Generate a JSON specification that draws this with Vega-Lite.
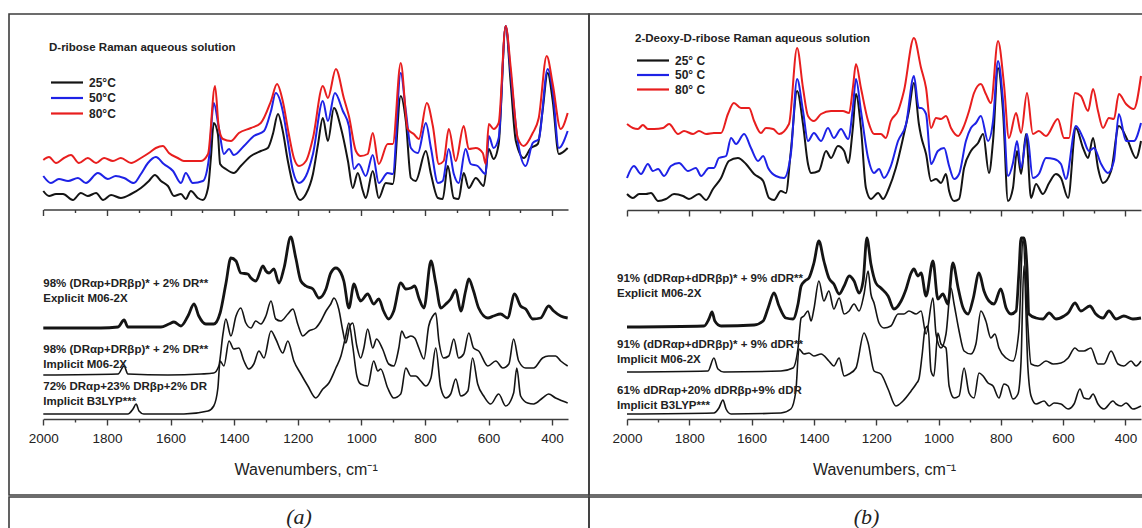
{
"$schema": "https://vega.github.io/schema/vega-lite/v6.json",
"padding": {"left": 8, "top": 13, "right": 0, "bottom": 0},
"background": "white",
"spacing": 0,
"config": {"font": "Liberation Sans", "view": {"stroke": null}, "axis": {"labelFont": "Liberation Sans", "titleFont": "Liberation Sans", "grid": false}},
"resolve": {"scale": {"x": "independent", "y": "independent", "color": "independent"}},
"datasets": {
"aExp": [
{"s":"25°C","w":2000,"i":228},{"s":"25°C","w":1982,"i":223},{"s":"25°C","w":1960,"i":225},{"s":"25°C","w":1938,"i":225},{"s":"25°C","w":1907,"i":219},{"s":"25°C","w":1882,"i":226},{"s":"25°C","w":1860,"i":223},{"s":"25°C","w":1834,"i":226},{"s":"25°C","w":1812,"i":219},{"s":"25°C","w":1787,"i":224},{"s":"25°C","w":1756,"i":221},{"s":"25°C","w":1724,"i":225},{"s":"25°C","w":1693,"i":231},{"s":"25°C","w":1668,"i":238},{"s":"25°C","w":1649,"i":244},{"s":"25°C","w":1630,"i":238},{"s":"25°C","w":1608,"i":233},{"s":"25°C","w":1589,"i":223},{"s":"25°C","w":1567,"i":225},{"s":"25°C","w":1552,"i":220},{"s":"25°C","w":1536,"i":228},{"s":"25°C","w":1514,"i":221},{"s":"25°C","w":1498,"i":219},{"s":"25°C","w":1482,"i":231},{"s":"25°C","w":1473,"i":261},{"s":"25°C","w":1464,"i":296},{"s":"25°C","w":1451,"i":285},{"s":"25°C","w":1444,"i":255},{"s":"25°C","w":1426,"i":250},{"s":"25°C","w":1401,"i":246},{"s":"25°C","w":1379,"i":253},{"s":"25°C","w":1347,"i":263},{"s":"25°C","w":1316,"i":268},{"s":"25°C","w":1294,"i":271},{"s":"25°C","w":1278,"i":285},{"s":"25°C","w":1262,"i":305},{"s":"25°C","w":1247,"i":288},{"s":"25°C","w":1231,"i":258},{"s":"25°C","w":1212,"i":231},{"s":"25°C","w":1193,"i":219},{"s":"25°C","w":1174,"i":225},{"s":"25°C","w":1152,"i":245},{"s":"25°C","w":1136,"i":275},{"s":"25°C","w":1121,"i":301},{"s":"25°C","w":1105,"i":278},{"s":"25°C","w":1086,"i":311},{"s":"25°C","w":1064,"i":291},{"s":"25°C","w":1042,"i":258},{"s":"25°C","w":1027,"i":231},{"s":"25°C","w":1011,"i":246},{"s":"25°C","w":995,"i":228},{"s":"25°C","w":986,"i":221},{"s":"25°C","w":964,"i":248},{"s":"25°C","w":945,"i":221},{"s":"25°C","w":923,"i":236},{"s":"25°C","w":901,"i":235},{"s":"25°C","w":876,"i":323},{"s":"25°C","w":860,"i":298},{"s":"25°C","w":844,"i":241},{"s":"25°C","w":829,"i":238},{"s":"25°C","w":797,"i":268},{"s":"25°C","w":781,"i":245},{"s":"25°C","w":759,"i":221},{"s":"25°C","w":744,"i":220},{"s":"25°C","w":728,"i":253},{"s":"25°C","w":709,"i":221},{"s":"25°C","w":694,"i":220},{"s":"25°C","w":678,"i":246},{"s":"25°C","w":662,"i":231},{"s":"25°C","w":640,"i":241},{"s":"25°C","w":615,"i":233},{"s":"25°C","w":599,"i":270},{"s":"25°C","w":584,"i":260},{"s":"25°C","w":568,"i":275},{"s":"25°C","w":546,"i":393},{"s":"25°C","w":530,"i":335},{"s":"25°C","w":514,"i":278},{"s":"25°C","w":489,"i":261},{"s":"25°C","w":467,"i":271},{"s":"25°C","w":445,"i":275},{"s":"25°C","w":430,"i":308},{"s":"25°C","w":414,"i":346},{"s":"25°C","w":398,"i":318},{"s":"25°C","w":379,"i":265},{"s":"25°C","w":351,"i":271},
{"s":"50°C","w":2000,"i":243},{"s":"50°C","w":1976,"i":236},{"s":"50°C","w":1951,"i":240},{"s":"50°C","w":1922,"i":238},{"s":"50°C","w":1891,"i":241},{"s":"50°C","w":1866,"i":236},{"s":"50°C","w":1828,"i":246},{"s":"50°C","w":1797,"i":240},{"s":"50°C","w":1772,"i":243},{"s":"50°C","w":1746,"i":241},{"s":"50°C","w":1715,"i":236},{"s":"50°C","w":1693,"i":245},{"s":"50°C","w":1671,"i":256},{"s":"50°C","w":1646,"i":262},{"s":"50°C","w":1621,"i":255},{"s":"50°C","w":1592,"i":248},{"s":"50°C","w":1567,"i":236},{"s":"50°C","w":1552,"i":246},{"s":"50°C","w":1530,"i":236},{"s":"50°C","w":1498,"i":238},{"s":"50°C","w":1479,"i":261},{"s":"50°C","w":1464,"i":316},{"s":"50°C","w":1448,"i":291},{"s":"50°C","w":1432,"i":265},{"s":"50°C","w":1416,"i":270},{"s":"50°C","w":1401,"i":264},{"s":"50°C","w":1369,"i":273},{"s":"50°C","w":1338,"i":283},{"s":"50°C","w":1306,"i":288},{"s":"50°C","w":1284,"i":308},{"s":"50°C","w":1269,"i":326},{"s":"50°C","w":1247,"i":308},{"s":"50°C","w":1231,"i":278},{"s":"50°C","w":1215,"i":248},{"s":"50°C","w":1196,"i":236},{"s":"50°C","w":1174,"i":243},{"s":"50°C","w":1152,"i":265},{"s":"50°C","w":1121,"i":318},{"s":"50°C","w":1105,"i":298},{"s":"50°C","w":1083,"i":326},{"s":"50°C","w":1058,"i":308},{"s":"50°C","w":1039,"i":293},{"s":"50°C","w":1023,"i":250},{"s":"50°C","w":1008,"i":255},{"s":"50°C","w":986,"i":243},{"s":"50°C","w":964,"i":264},{"s":"50°C","w":945,"i":236},{"s":"50°C","w":917,"i":246},{"s":"50°C","w":901,"i":245},{"s":"50°C","w":876,"i":346},{"s":"50°C","w":860,"i":308},{"s":"50°C","w":844,"i":271},{"s":"50°C","w":822,"i":266},{"s":"50°C","w":797,"i":296},{"s":"50°C","w":781,"i":271},{"s":"50°C","w":759,"i":236},{"s":"50°C","w":744,"i":238},{"s":"50°C","w":725,"i":270},{"s":"50°C","w":709,"i":245},{"s":"50°C","w":694,"i":236},{"s":"50°C","w":672,"i":270},{"s":"50°C","w":656,"i":255},{"s":"50°C","w":634,"i":253},{"s":"50°C","w":609,"i":245},{"s":"50°C","w":599,"i":283},{"s":"50°C","w":584,"i":271},{"s":"50°C","w":568,"i":281},{"s":"50°C","w":546,"i":393},{"s":"50°C","w":530,"i":345},{"s":"50°C","w":508,"i":278},{"s":"50°C","w":483,"i":253},{"s":"50°C","w":461,"i":276},{"s":"50°C","w":442,"i":280},{"s":"50°C","w":414,"i":350},{"s":"50°C","w":398,"i":328},{"s":"50°C","w":379,"i":271},{"s":"50°C","w":351,"i":288},
{"s":"80°C","w":2000,"i":259},{"s":"80°C","w":1982,"i":262},{"s":"80°C","w":1960,"i":256},{"s":"80°C","w":1935,"i":261},{"s":"80°C","w":1913,"i":264},{"s":"80°C","w":1888,"i":256},{"s":"80°C","w":1860,"i":261},{"s":"80°C","w":1834,"i":256},{"s":"80°C","w":1809,"i":261},{"s":"80°C","w":1781,"i":258},{"s":"80°C","w":1756,"i":261},{"s":"80°C","w":1724,"i":256},{"s":"80°C","w":1693,"i":261},{"s":"80°C","w":1668,"i":266},{"s":"80°C","w":1646,"i":271},{"s":"80°C","w":1624,"i":273},{"s":"80°C","w":1605,"i":266},{"s":"80°C","w":1577,"i":261},{"s":"80°C","w":1558,"i":258},{"s":"80°C","w":1530,"i":258},{"s":"80°C","w":1504,"i":258},{"s":"80°C","w":1482,"i":265},{"s":"80°C","w":1460,"i":333},{"s":"80°C","w":1448,"i":291},{"s":"80°C","w":1435,"i":280},{"s":"80°C","w":1410,"i":278},{"s":"80°C","w":1385,"i":286},{"s":"80°C","w":1347,"i":291},{"s":"80°C","w":1316,"i":296},{"s":"80°C","w":1284,"i":318},{"s":"80°C","w":1265,"i":335},{"s":"80°C","w":1247,"i":318},{"s":"80°C","w":1228,"i":285},{"s":"80°C","w":1212,"i":261},{"s":"80°C","w":1196,"i":253},{"s":"80°C","w":1174,"i":258},{"s":"80°C","w":1152,"i":281},{"s":"80°C","w":1121,"i":333},{"s":"80°C","w":1105,"i":321},{"s":"80°C","w":1080,"i":350},{"s":"80°C","w":1055,"i":321},{"s":"80°C","w":1039,"i":303},{"s":"80°C","w":1017,"i":268},{"s":"80°C","w":1002,"i":263},{"s":"80°C","w":980,"i":265},{"s":"80°C","w":964,"i":286},{"s":"80°C","w":945,"i":255},{"s":"80°C","w":917,"i":275},{"s":"80°C","w":901,"i":275},{"s":"80°C","w":876,"i":356},{"s":"80°C","w":854,"i":290},{"s":"80°C","w":835,"i":285},{"s":"80°C","w":819,"i":280},{"s":"80°C","w":794,"i":316},{"s":"80°C","w":775,"i":293},{"s":"80°C","w":756,"i":255},{"s":"80°C","w":741,"i":258},{"s":"80°C","w":725,"i":290},{"s":"80°C","w":703,"i":258},{"s":"80°C","w":678,"i":293},{"s":"80°C","w":662,"i":270},{"s":"80°C","w":640,"i":271},{"s":"80°C","w":618,"i":266},{"s":"80°C","w":609,"i":255},{"s":"80°C","w":599,"i":295},{"s":"80°C","w":584,"i":290},{"s":"80°C","w":568,"i":296},{"s":"80°C","w":546,"i":393},{"s":"80°C","w":530,"i":351},{"s":"80°C","w":508,"i":281},{"s":"80°C","w":489,"i":273},{"s":"80°C","w":461,"i":286},{"s":"80°C","w":442,"i":301},{"s":"80°C","w":417,"i":363},{"s":"80°C","w":398,"i":335},{"s":"80°C","w":373,"i":290},{"s":"80°C","w":351,"i":306}
],
"aCalc": [
{"s":"exp","w":2000,"i":91},{"s":"exp","w":1819,"i":91},{"s":"exp","w":1765,"i":92},{"s":"exp","w":1746,"i":99},{"s":"exp","w":1734,"i":92},{"s":"exp","w":1630,"i":92},{"s":"exp","w":1605,"i":95},{"s":"exp","w":1589,"i":97},{"s":"exp","w":1567,"i":93},{"s":"exp","w":1545,"i":103},{"s":"exp","w":1526,"i":115},{"s":"exp","w":1511,"i":103},{"s":"exp","w":1489,"i":95},{"s":"exp","w":1464,"i":95},{"s":"exp","w":1444,"i":106},{"s":"exp","w":1426,"i":135},{"s":"exp","w":1410,"i":161},{"s":"exp","w":1394,"i":158},{"s":"exp","w":1379,"i":146},{"s":"exp","w":1357,"i":145},{"s":"exp","w":1347,"i":141},{"s":"exp","w":1332,"i":138},{"s":"exp","w":1309,"i":153},{"s":"exp","w":1300,"i":148},{"s":"exp","w":1290,"i":146},{"s":"exp","w":1275,"i":150},{"s":"exp","w":1259,"i":136},{"s":"exp","w":1243,"i":151},{"s":"exp","w":1222,"i":182},{"s":"exp","w":1206,"i":161},{"s":"exp","w":1190,"i":138},{"s":"exp","w":1174,"i":133},{"s":"exp","w":1152,"i":130},{"s":"exp","w":1133,"i":121},{"s":"exp","w":1111,"i":130},{"s":"exp","w":1096,"i":146},{"s":"exp","w":1080,"i":151},{"s":"exp","w":1064,"i":146},{"s":"exp","w":1055,"i":138},{"s":"exp","w":1039,"i":111},{"s":"exp","w":1023,"i":135},{"s":"exp","w":1008,"i":121},{"s":"exp","w":1002,"i":118},{"s":"exp","w":980,"i":125},{"s":"exp","w":961,"i":115},{"s":"exp","w":945,"i":120},{"s":"exp","w":930,"i":108},{"s":"exp","w":914,"i":100},{"s":"exp","w":898,"i":108},{"s":"exp","w":876,"i":136},{"s":"exp","w":860,"i":130},{"s":"exp","w":844,"i":131},{"s":"exp","w":832,"i":133},{"s":"exp","w":819,"i":121},{"s":"exp","w":803,"i":111},{"s":"exp","w":781,"i":158},{"s":"exp","w":766,"i":136},{"s":"exp","w":750,"i":111},{"s":"exp","w":734,"i":115},{"s":"exp","w":719,"i":120},{"s":"exp","w":703,"i":129},{"s":"exp","w":687,"i":108},{"s":"exp","w":672,"i":128},{"s":"exp","w":662,"i":140},{"s":"exp","w":647,"i":128},{"s":"exp","w":631,"i":111},{"s":"exp","w":602,"i":101},{"s":"exp","w":584,"i":103},{"s":"exp","w":562,"i":105},{"s":"exp","w":540,"i":101},{"s":"exp","w":518,"i":125},{"s":"exp","w":499,"i":113},{"s":"exp","w":483,"i":110},{"s":"exp","w":461,"i":100},{"s":"exp","w":436,"i":101},{"s":"exp","w":411,"i":113},{"s":"exp","w":395,"i":108},{"s":"exp","w":373,"i":103},{"s":"exp","w":351,"i":101},
{"s":"imp","w":2000,"i":44},{"s":"imp","w":1765,"i":45},{"s":"imp","w":1746,"i":53},{"s":"imp","w":1734,"i":45},{"s":"imp","w":1608,"i":44},{"s":"imp","w":1504,"i":45},{"s":"imp","w":1464,"i":46},{"s":"imp","w":1448,"i":53},{"s":"imp","w":1435,"i":85},{"s":"imp","w":1426,"i":100},{"s":"imp","w":1410,"i":83},{"s":"imp","w":1394,"i":103},{"s":"imp","w":1379,"i":111},{"s":"imp","w":1363,"i":96},{"s":"imp","w":1347,"i":91},{"s":"imp","w":1332,"i":98},{"s":"imp","w":1316,"i":95},{"s":"imp","w":1300,"i":103},{"s":"imp","w":1284,"i":118},{"s":"imp","w":1269,"i":100},{"s":"imp","w":1253,"i":98},{"s":"imp","w":1231,"i":105},{"s":"imp","w":1215,"i":110},{"s":"imp","w":1200,"i":95},{"s":"imp","w":1184,"i":83},{"s":"imp","w":1165,"i":88},{"s":"imp","w":1143,"i":91},{"s":"imp","w":1127,"i":98},{"s":"imp","w":1111,"i":108},{"s":"imp","w":1096,"i":115},{"s":"imp","w":1086,"i":121},{"s":"imp","w":1071,"i":110},{"s":"imp","w":1058,"i":88},{"s":"imp","w":1049,"i":76},{"s":"imp","w":1036,"i":93},{"s":"imp","w":1027,"i":96},{"s":"imp","w":1014,"i":73},{"s":"imp","w":1002,"i":61},{"s":"imp","w":992,"i":71},{"s":"imp","w":980,"i":90},{"s":"imp","w":964,"i":71},{"s":"imp","w":952,"i":80},{"s":"imp","w":933,"i":70},{"s":"imp","w":914,"i":55},{"s":"imp","w":898,"i":53},{"s":"imp","w":882,"i":71},{"s":"imp","w":873,"i":88},{"s":"imp","w":860,"i":81},{"s":"imp","w":844,"i":83},{"s":"imp","w":832,"i":81},{"s":"imp","w":819,"i":71},{"s":"imp","w":803,"i":60},{"s":"imp","w":788,"i":93},{"s":"imp","w":775,"i":103},{"s":"imp","w":766,"i":106},{"s":"imp","w":756,"i":78},{"s":"imp","w":741,"i":61},{"s":"imp","w":725,"i":63},{"s":"imp","w":709,"i":80},{"s":"imp","w":694,"i":61},{"s":"imp","w":678,"i":65},{"s":"imp","w":662,"i":86},{"s":"imp","w":647,"i":71},{"s":"imp","w":631,"i":68},{"s":"imp","w":602,"i":53},{"s":"imp","w":577,"i":58},{"s":"imp","w":555,"i":51},{"s":"imp","w":536,"i":55},{"s":"imp","w":521,"i":80},{"s":"imp","w":505,"i":58},{"s":"imp","w":483,"i":51},{"s":"imp","w":458,"i":51},{"s":"imp","w":430,"i":61},{"s":"imp","w":411,"i":63},{"s":"imp","w":389,"i":63},{"s":"imp","w":373,"i":58},{"s":"imp","w":351,"i":53},
{"s":"b3","w":2000,"i":5},{"s":"b3","w":1734,"i":5},{"s":"b3","w":1718,"i":10},{"s":"b3","w":1708,"i":15},{"s":"b3","w":1699,"i":8},{"s":"b3","w":1684,"i":5},{"s":"b3","w":1558,"i":5},{"s":"b3","w":1482,"i":8},{"s":"b3","w":1464,"i":13},{"s":"b3","w":1451,"i":31},{"s":"b3","w":1444,"i":58},{"s":"b3","w":1432,"i":53},{"s":"b3","w":1416,"i":78},{"s":"b3","w":1401,"i":70},{"s":"b3","w":1385,"i":71},{"s":"b3","w":1369,"i":58},{"s":"b3","w":1354,"i":50},{"s":"b3","w":1338,"i":55},{"s":"b3","w":1322,"i":68},{"s":"b3","w":1306,"i":61},{"s":"b3","w":1284,"i":88},{"s":"b3","w":1269,"i":80},{"s":"b3","w":1247,"i":66},{"s":"b3","w":1231,"i":78},{"s":"b3","w":1212,"i":58},{"s":"b3","w":1190,"i":45},{"s":"b3","w":1168,"i":33},{"s":"b3","w":1143,"i":21},{"s":"b3","w":1121,"i":30},{"s":"b3","w":1102,"i":36},{"s":"b3","w":1080,"i":51},{"s":"b3","w":1064,"i":63},{"s":"b3","w":1049,"i":83},{"s":"b3","w":1039,"i":96},{"s":"b3","w":1027,"i":73},{"s":"b3","w":1014,"i":43},{"s":"b3","w":1002,"i":35},{"s":"b3","w":980,"i":33},{"s":"b3","w":961,"i":58},{"s":"b3","w":948,"i":48},{"s":"b3","w":939,"i":50},{"s":"b3","w":917,"i":31},{"s":"b3","w":898,"i":21},{"s":"b3","w":876,"i":25},{"s":"b3","w":860,"i":51},{"s":"b3","w":844,"i":43},{"s":"b3","w":829,"i":43},{"s":"b3","w":813,"i":38},{"s":"b3","w":797,"i":33},{"s":"b3","w":781,"i":41},{"s":"b3","w":766,"i":71},{"s":"b3","w":750,"i":31},{"s":"b3","w":734,"i":21},{"s":"b3","w":719,"i":25},{"s":"b3","w":703,"i":40},{"s":"b3","w":687,"i":23},{"s":"b3","w":665,"i":28},{"s":"b3","w":650,"i":61},{"s":"b3","w":634,"i":35},{"s":"b3","w":615,"i":23},{"s":"b3","w":593,"i":15},{"s":"b3","w":568,"i":25},{"s":"b3","w":546,"i":13},{"s":"b3","w":521,"i":26},{"s":"b3","w":511,"i":51},{"s":"b3","w":499,"i":23},{"s":"b3","w":477,"i":16},{"s":"b3","w":458,"i":15},{"s":"b3","w":430,"i":21},{"s":"b3","w":411,"i":25},{"s":"b3","w":389,"i":21},{"s":"b3","w":367,"i":18},{"s":"b3","w":351,"i":16}
],
"aLab": [
{"w":2000,"i":141,"t":"98% (DRαp+DRβp)* + 2% DR**\nExplicit M06-2X"},
{"w":2000,"i":75,"t":"98% (DRαp+DRβp)* + 2% DR**\nImplicit M06-2X"},
{"w":2000,"i":38,"t":"72% DRαp+23% DRβp+2% DR\nImplicit B3LYP***"}
],
"bExp": [
{"s":"25° C","w":2000,"i":225},{"s":"25° C","w":1981,"i":221},{"s":"25° C","w":1961,"i":225},{"s":"25° C","w":1939,"i":225},{"s":"25° C","w":1923,"i":226},{"s":"25° C","w":1900,"i":218},{"s":"25° C","w":1875,"i":220},{"s":"25° C","w":1849,"i":225},{"s":"25° C","w":1820,"i":223},{"s":"25° C","w":1801,"i":220},{"s":"25° C","w":1769,"i":225},{"s":"25° C","w":1746,"i":219},{"s":"25° C","w":1724,"i":230},{"s":"25° C","w":1698,"i":241},{"s":"25° C","w":1673,"i":258},{"s":"25° C","w":1644,"i":261},{"s":"25° C","w":1618,"i":255},{"s":"25° C","w":1592,"i":245},{"s":"25° C","w":1563,"i":238},{"s":"25° C","w":1544,"i":221},{"s":"25° C","w":1528,"i":219},{"s":"25° C","w":1506,"i":228},{"s":"25° C","w":1490,"i":226},{"s":"25° C","w":1474,"i":268},{"s":"25° C","w":1454,"i":328},{"s":"25° C","w":1435,"i":295},{"s":"25° C","w":1419,"i":255},{"s":"25° C","w":1409,"i":246},{"s":"25° C","w":1384,"i":248},{"s":"25° C","w":1361,"i":268},{"s":"25° C","w":1345,"i":261},{"s":"25° C","w":1323,"i":273},{"s":"25° C","w":1303,"i":268},{"s":"25° C","w":1290,"i":256},{"s":"25° C","w":1275,"i":291},{"s":"25° C","w":1265,"i":325},{"s":"25° C","w":1249,"i":291},{"s":"25° C","w":1233,"i":231},{"s":"25° C","w":1217,"i":220},{"s":"25° C","w":1194,"i":226},{"s":"25° C","w":1178,"i":220},{"s":"25° C","w":1159,"i":231},{"s":"25° C","w":1137,"i":251},{"s":"25° C","w":1111,"i":285},{"s":"25° C","w":1095,"i":308},{"s":"25° C","w":1079,"i":336},{"s":"25° C","w":1063,"i":295},{"s":"25° C","w":1056,"i":283},{"s":"25° C","w":1040,"i":265},{"s":"25° C","w":1024,"i":238},{"s":"25° C","w":1008,"i":240},{"s":"25° C","w":992,"i":236},{"s":"25° C","w":976,"i":245},{"s":"25° C","w":966,"i":228},{"s":"25° C","w":950,"i":218},{"s":"25° C","w":934,"i":220},{"s":"25° C","w":918,"i":251},{"s":"25° C","w":896,"i":268},{"s":"25° C","w":873,"i":276},{"s":"25° C","w":857,"i":285},{"s":"25° C","w":838,"i":246},{"s":"25° C","w":825,"i":278},{"s":"25° C","w":809,"i":351},{"s":"25° C","w":793,"i":308},{"s":"25° C","w":777,"i":218},{"s":"25° C","w":761,"i":231},{"s":"25° C","w":748,"i":268},{"s":"25° C","w":735,"i":245},{"s":"25° C","w":719,"i":285},{"s":"25° C","w":703,"i":221},{"s":"25° C","w":687,"i":235},{"s":"25° C","w":665,"i":225},{"s":"25° C","w":645,"i":236},{"s":"25° C","w":623,"i":245},{"s":"25° C","w":607,"i":241},{"s":"25° C","w":584,"i":221},{"s":"25° C","w":559,"i":291},{"s":"25° C","w":536,"i":271},{"s":"25° C","w":520,"i":261},{"s":"25° C","w":504,"i":281},{"s":"25° C","w":488,"i":251},{"s":"25° C","w":472,"i":236},{"s":"25° C","w":446,"i":248},{"s":"25° C","w":421,"i":293},{"s":"25° C","w":392,"i":278},{"s":"25° C","w":366,"i":261},{"s":"25° C","w":350,"i":278},
{"s":"50° C","w":2000,"i":241},{"s":"50° C","w":1978,"i":253},{"s":"50° C","w":1955,"i":245},{"s":"50° C","w":1933,"i":255},{"s":"50° C","w":1917,"i":248},{"s":"50° C","w":1900,"i":250},{"s":"50° C","w":1881,"i":243},{"s":"50° C","w":1859,"i":253},{"s":"50° C","w":1833,"i":256},{"s":"50° C","w":1804,"i":248},{"s":"50° C","w":1779,"i":251},{"s":"50° C","w":1762,"i":243},{"s":"50° C","w":1737,"i":251},{"s":"50° C","w":1721,"i":251},{"s":"50° C","w":1705,"i":261},{"s":"50° C","w":1682,"i":263},{"s":"50° C","w":1666,"i":281},{"s":"50° C","w":1650,"i":275},{"s":"50° C","w":1624,"i":285},{"s":"50° C","w":1602,"i":271},{"s":"50° C","w":1579,"i":258},{"s":"50° C","w":1563,"i":263},{"s":"50° C","w":1547,"i":251},{"s":"50° C","w":1522,"i":243},{"s":"50° C","w":1496,"i":241},{"s":"50° C","w":1474,"i":265},{"s":"50° C","w":1454,"i":340},{"s":"50° C","w":1435,"i":308},{"s":"50° C","w":1419,"i":278},{"s":"50° C","w":1400,"i":286},{"s":"50° C","w":1377,"i":278},{"s":"50° C","w":1355,"i":291},{"s":"50° C","w":1336,"i":281},{"s":"50° C","w":1313,"i":290},{"s":"50° C","w":1290,"i":280},{"s":"50° C","w":1275,"i":311},{"s":"50° C","w":1265,"i":340},{"s":"50° C","w":1249,"i":308},{"s":"50° C","w":1226,"i":261},{"s":"50° C","w":1207,"i":246},{"s":"50° C","w":1191,"i":250},{"s":"50° C","w":1175,"i":241},{"s":"50° C","w":1153,"i":253},{"s":"50° C","w":1130,"i":278},{"s":"50° C","w":1104,"i":295},{"s":"50° C","w":1079,"i":343},{"s":"50° C","w":1063,"i":311},{"s":"50° C","w":1056,"i":311},{"s":"50° C","w":1040,"i":305},{"s":"50° C","w":1024,"i":255},{"s":"50° C","w":1002,"i":268},{"s":"50° C","w":982,"i":271},{"s":"50° C","w":966,"i":253},{"s":"50° C","w":950,"i":240},{"s":"50° C","w":934,"i":245},{"s":"50° C","w":912,"i":278},{"s":"50° C","w":896,"i":291},{"s":"50° C","w":880,"i":296},{"s":"50° C","w":864,"i":303},{"s":"50° C","w":841,"i":278},{"s":"50° C","w":825,"i":298},{"s":"50° C","w":809,"i":358},{"s":"50° C","w":793,"i":318},{"s":"50° C","w":777,"i":243},{"s":"50° C","w":761,"i":256},{"s":"50° C","w":748,"i":278},{"s":"50° C","w":735,"i":251},{"s":"50° C","w":716,"i":285},{"s":"50° C","w":697,"i":241},{"s":"50° C","w":678,"i":245},{"s":"50° C","w":655,"i":261},{"s":"50° C","w":629,"i":260},{"s":"50° C","w":607,"i":255},{"s":"50° C","w":591,"i":240},{"s":"50° C","w":559,"i":293},{"s":"50° C","w":536,"i":281},{"s":"50° C","w":517,"i":268},{"s":"50° C","w":501,"i":271},{"s":"50° C","w":478,"i":255},{"s":"50° C","w":456,"i":246},{"s":"50° C","w":437,"i":258},{"s":"50° C","w":421,"i":305},{"s":"50° C","w":398,"i":278},{"s":"50° C","w":373,"i":278},{"s":"50° C","w":350,"i":296},
{"s":"80° C","w":2000,"i":295},{"s":"80° C","w":1981,"i":291},{"s":"80° C","w":1965,"i":290},{"s":"80° C","w":1949,"i":294},{"s":"80° C","w":1933,"i":290},{"s":"80° C","w":1913,"i":290},{"s":"80° C","w":1884,"i":291},{"s":"80° C","w":1865,"i":295},{"s":"80° C","w":1836,"i":285},{"s":"80° C","w":1817,"i":288},{"s":"80° C","w":1788,"i":285},{"s":"80° C","w":1769,"i":288},{"s":"80° C","w":1746,"i":285},{"s":"80° C","w":1721,"i":286},{"s":"80° C","w":1698,"i":286},{"s":"80° C","w":1676,"i":305},{"s":"80° C","w":1657,"i":316},{"s":"80° C","w":1634,"i":311},{"s":"80° C","w":1608,"i":311},{"s":"80° C","w":1592,"i":298},{"s":"80° C","w":1570,"i":286},{"s":"80° C","w":1554,"i":291},{"s":"80° C","w":1531,"i":290},{"s":"80° C","w":1512,"i":285},{"s":"80° C","w":1480,"i":295},{"s":"80° C","w":1454,"i":371},{"s":"80° C","w":1435,"i":331},{"s":"80° C","w":1419,"i":303},{"s":"80° C","w":1400,"i":298},{"s":"80° C","w":1377,"i":305},{"s":"80° C","w":1345,"i":308},{"s":"80° C","w":1307,"i":308},{"s":"80° C","w":1287,"i":306},{"s":"80° C","w":1275,"i":331},{"s":"80° C","w":1265,"i":355},{"s":"80° C","w":1249,"i":331},{"s":"80° C","w":1226,"i":298},{"s":"80° C","w":1207,"i":285},{"s":"80° C","w":1185,"i":285},{"s":"80° C","w":1169,"i":281},{"s":"80° C","w":1153,"i":298},{"s":"80° C","w":1130,"i":308},{"s":"80° C","w":1111,"i":328},{"s":"80° C","w":1079,"i":381},{"s":"80° C","w":1056,"i":351},{"s":"80° C","w":1040,"i":331},{"s":"80° C","w":1024,"i":291},{"s":"80° C","w":1008,"i":301},{"s":"80° C","w":992,"i":300},{"s":"80° C","w":976,"i":303},{"s":"80° C","w":960,"i":291},{"s":"80° C","w":937,"i":283},{"s":"80° C","w":921,"i":291},{"s":"80° C","w":902,"i":308},{"s":"80° C","w":886,"i":326},{"s":"80° C","w":864,"i":335},{"s":"80° C","w":848,"i":325},{"s":"80° C","w":832,"i":316},{"s":"80° C","w":809,"i":378},{"s":"80° C","w":790,"i":335},{"s":"80° C","w":774,"i":281},{"s":"80° C","w":751,"i":306},{"s":"80° C","w":735,"i":286},{"s":"80° C","w":716,"i":326},{"s":"80° C","w":697,"i":285},{"s":"80° C","w":678,"i":288},{"s":"80° C","w":655,"i":283},{"s":"80° C","w":617,"i":300},{"s":"80° C","w":597,"i":281},{"s":"80° C","w":581,"i":281},{"s":"80° C","w":562,"i":326},{"s":"80° C","w":543,"i":323},{"s":"80° C","w":520,"i":308},{"s":"80° C","w":504,"i":330},{"s":"80° C","w":488,"i":308},{"s":"80° C","w":472,"i":291},{"s":"80° C","w":453,"i":301},{"s":"80° C","w":437,"i":300},{"s":"80° C","w":421,"i":325},{"s":"80° C","w":398,"i":315},{"s":"80° C","w":373,"i":310},{"s":"80° C","w":350,"i":343}
],
"bCalc": [
{"s":"exp","w":2000,"i":92},{"s":"exp","w":1753,"i":93},{"s":"exp","w":1737,"i":100},{"s":"exp","w":1727,"i":107},{"s":"exp","w":1718,"i":98},{"s":"exp","w":1698,"i":93},{"s":"exp","w":1592,"i":94},{"s":"exp","w":1563,"i":98},{"s":"exp","w":1547,"i":111},{"s":"exp","w":1528,"i":126},{"s":"exp","w":1512,"i":113},{"s":"exp","w":1490,"i":101},{"s":"exp","w":1467,"i":100},{"s":"exp","w":1451,"i":115},{"s":"exp","w":1441,"i":133},{"s":"exp","w":1429,"i":138},{"s":"exp","w":1416,"i":141},{"s":"exp","w":1400,"i":156},{"s":"exp","w":1384,"i":178},{"s":"exp","w":1368,"i":158},{"s":"exp","w":1352,"i":141},{"s":"exp","w":1336,"i":135},{"s":"exp","w":1319,"i":125},{"s":"exp","w":1303,"i":133},{"s":"exp","w":1287,"i":143},{"s":"exp","w":1271,"i":138},{"s":"exp","w":1255,"i":126},{"s":"exp","w":1242,"i":138},{"s":"exp","w":1230,"i":181},{"s":"exp","w":1217,"i":155},{"s":"exp","w":1201,"i":136},{"s":"exp","w":1185,"i":131},{"s":"exp","w":1162,"i":123},{"s":"exp","w":1143,"i":110},{"s":"exp","w":1120,"i":118},{"s":"exp","w":1104,"i":130},{"s":"exp","w":1088,"i":146},{"s":"exp","w":1079,"i":150},{"s":"exp","w":1066,"i":143},{"s":"exp","w":1056,"i":146},{"s":"exp","w":1040,"i":123},{"s":"exp","w":1018,"i":158},{"s":"exp","w":1002,"i":120},{"s":"exp","w":986,"i":125},{"s":"exp","w":970,"i":115},{"s":"exp","w":954,"i":156},{"s":"exp","w":937,"i":131},{"s":"exp","w":921,"i":111},{"s":"exp","w":905,"i":105},{"s":"exp","w":889,"i":120},{"s":"exp","w":870,"i":146},{"s":"exp","w":854,"i":128},{"s":"exp","w":838,"i":118},{"s":"exp","w":822,"i":115},{"s":"exp","w":800,"i":130},{"s":"exp","w":783,"i":111},{"s":"exp","w":767,"i":105},{"s":"exp","w":751,"i":108},{"s":"exp","w":742,"i":146},{"s":"exp","w":735,"i":181},{"s":"exp","w":726,"i":181},{"s":"exp","w":716,"i":151},{"s":"exp","w":710,"i":105},{"s":"exp","w":687,"i":101},{"s":"exp","w":665,"i":100},{"s":"exp","w":645,"i":106},{"s":"exp","w":623,"i":100},{"s":"exp","w":597,"i":103},{"s":"exp","w":584,"i":106},{"s":"exp","w":562,"i":116},{"s":"exp","w":543,"i":108},{"s":"exp","w":514,"i":113},{"s":"exp","w":495,"i":105},{"s":"exp","w":472,"i":101},{"s":"exp","w":453,"i":108},{"s":"exp","w":430,"i":100},{"s":"exp","w":405,"i":103},{"s":"exp","w":376,"i":100},{"s":"exp","w":350,"i":101},
{"s":"imp","w":2000,"i":47},{"s":"imp","w":1740,"i":48},{"s":"imp","w":1721,"i":61},{"s":"imp","w":1708,"i":50},{"s":"imp","w":1689,"i":47},{"s":"imp","w":1506,"i":48},{"s":"imp","w":1467,"i":51},{"s":"imp","w":1451,"i":71},{"s":"imp","w":1441,"i":101},{"s":"imp","w":1432,"i":103},{"s":"imp","w":1419,"i":108},{"s":"imp","w":1409,"i":98},{"s":"imp","w":1400,"i":110},{"s":"imp","w":1384,"i":138},{"s":"imp","w":1368,"i":118},{"s":"imp","w":1352,"i":128},{"s":"imp","w":1336,"i":110},{"s":"imp","w":1319,"i":121},{"s":"imp","w":1303,"i":105},{"s":"imp","w":1287,"i":108},{"s":"imp","w":1271,"i":115},{"s":"imp","w":1255,"i":108},{"s":"imp","w":1239,"i":125},{"s":"imp","w":1226,"i":148},{"s":"imp","w":1217,"i":125},{"s":"imp","w":1207,"i":116},{"s":"imp","w":1191,"i":96},{"s":"imp","w":1175,"i":91},{"s":"imp","w":1153,"i":93},{"s":"imp","w":1130,"i":105},{"s":"imp","w":1111,"i":105},{"s":"imp","w":1095,"i":108},{"s":"imp","w":1072,"i":105},{"s":"imp","w":1056,"i":108},{"s":"imp","w":1040,"i":85},{"s":"imp","w":1018,"i":121},{"s":"imp","w":1008,"i":85},{"s":"imp","w":992,"i":71},{"s":"imp","w":976,"i":85},{"s":"imp","w":960,"i":131},{"s":"imp","w":950,"i":115},{"s":"imp","w":934,"i":88},{"s":"imp","w":918,"i":68},{"s":"imp","w":896,"i":65},{"s":"imp","w":880,"i":75},{"s":"imp","w":864,"i":108},{"s":"imp","w":848,"i":98},{"s":"imp","w":832,"i":81},{"s":"imp","w":819,"i":85},{"s":"imp","w":806,"i":71},{"s":"imp","w":783,"i":61},{"s":"imp","w":761,"i":58},{"s":"imp","w":742,"i":88},{"s":"imp","w":729,"i":181},{"s":"imp","w":716,"i":108},{"s":"imp","w":703,"i":55},{"s":"imp","w":681,"i":53},{"s":"imp","w":655,"i":58},{"s":"imp","w":632,"i":55},{"s":"imp","w":607,"i":56},{"s":"imp","w":584,"i":61},{"s":"imp","w":562,"i":71},{"s":"imp","w":549,"i":68},{"s":"imp","w":533,"i":68},{"s":"imp","w":511,"i":71},{"s":"imp","w":488,"i":55},{"s":"imp","w":469,"i":55},{"s":"imp","w":446,"i":68},{"s":"imp","w":424,"i":55},{"s":"imp","w":405,"i":53},{"s":"imp","w":382,"i":58},{"s":"imp","w":366,"i":53},{"s":"imp","w":350,"i":58},
{"s":"b3","w":2000,"i":5},{"s":"b3","w":1721,"i":6},{"s":"b3","w":1705,"i":11},{"s":"b3","w":1692,"i":19},{"s":"b3","w":1682,"i":10},{"s":"b3","w":1666,"i":5},{"s":"b3","w":1506,"i":6},{"s":"b3","w":1474,"i":10},{"s":"b3","w":1458,"i":28},{"s":"b3","w":1448,"i":70},{"s":"b3","w":1432,"i":65},{"s":"b3","w":1416,"i":66},{"s":"b3","w":1400,"i":63},{"s":"b3","w":1377,"i":65},{"s":"b3","w":1352,"i":58},{"s":"b3","w":1336,"i":53},{"s":"b3","w":1319,"i":61},{"s":"b3","w":1303,"i":43},{"s":"b3","w":1287,"i":45},{"s":"b3","w":1265,"i":51},{"s":"b3","w":1239,"i":86},{"s":"b3","w":1226,"i":76},{"s":"b3","w":1207,"i":48},{"s":"b3","w":1185,"i":45},{"s":"b3","w":1162,"i":30},{"s":"b3","w":1137,"i":13},{"s":"b3","w":1114,"i":18},{"s":"b3","w":1088,"i":28},{"s":"b3","w":1072,"i":35},{"s":"b3","w":1063,"i":40},{"s":"b3","w":1053,"i":63},{"s":"b3","w":1043,"i":90},{"s":"b3","w":1034,"i":93},{"s":"b3","w":1024,"i":48},{"s":"b3","w":1015,"i":43},{"s":"b3","w":1002,"i":86},{"s":"b3","w":992,"i":75},{"s":"b3","w":976,"i":71},{"s":"b3","w":966,"i":33},{"s":"b3","w":950,"i":21},{"s":"b3","w":934,"i":23},{"s":"b3","w":918,"i":51},{"s":"b3","w":902,"i":26},{"s":"b3","w":886,"i":21},{"s":"b3","w":870,"i":46},{"s":"b3","w":857,"i":43},{"s":"b3","w":841,"i":36},{"s":"b3","w":825,"i":33},{"s":"b3","w":806,"i":21},{"s":"b3","w":790,"i":35},{"s":"b3","w":777,"i":33},{"s":"b3","w":761,"i":20},{"s":"b3","w":745,"i":25},{"s":"b3","w":735,"i":58},{"s":"b3","w":726,"i":153},{"s":"b3","w":713,"i":51},{"s":"b3","w":703,"i":23},{"s":"b3","w":687,"i":15},{"s":"b3","w":661,"i":18},{"s":"b3","w":645,"i":13},{"s":"b3","w":629,"i":16},{"s":"b3","w":607,"i":15},{"s":"b3","w":584,"i":10},{"s":"b3","w":565,"i":15},{"s":"b3","w":546,"i":30},{"s":"b3","w":533,"i":21},{"s":"b3","w":517,"i":20},{"s":"b3","w":504,"i":25},{"s":"b3","w":488,"i":15},{"s":"b3","w":469,"i":10},{"s":"b3","w":440,"i":18},{"s":"b3","w":430,"i":15},{"s":"b3","w":414,"i":13},{"s":"b3","w":398,"i":16},{"s":"b3","w":376,"i":10},{"s":"b3","w":350,"i":13}
],
"bLab": [
{"w":2032,"i":146,"t":"91% (dDRαp+dDRβp)* + 9% dDR**\nExplicit M06-2X"},
{"w":2032,"i":80,"t":"91% (dDRαp+dDRβp)* + 9% dDR**\nImplicit M06-2X"},
{"w":2032,"i":34,"t":"61% dDRαp+20% dDRβp+9% dDR\nImplicit B3LYP***"}
]
},
"vconcat": [
{
"hconcat": [
{
"width": 580, "height": 481,
"view": {"stroke": "#3c3c3c", "strokeWidth": 1.6},
"resolve": {"axis": {"x": "independent"}},
"layer": [
{"data": {"name": "aExp"},
 "mark": {"type": "line", "interpolate": "monotone", "strokeWidth": 2},
 "encoding": {
  "x": {"field": "w", "type": "quantitative", "scale": {"domain": [2000, 350], "range": [34.3, 559], "nice": false, "zero": false}, "axis": {"orient": "bottom", "offset": -285.5, "values": [2000,1800,1600,1400,1200,1000,800,600,400], "labels": false, "title": null, "tickSize": 6, "domainColor": "#3c3c3c", "domainWidth": 1.5, "tickColor": "#3c3c3c", "tickWidth": 1.4}},
  "y": {"field": "i", "type": "quantitative", "scale": {"domain": [-76, 405], "nice": false, "zero": false}, "axis": null},
  "color": {"field": "s", "type": "nominal", "scale": {"domain": ["25°C", "50°C", "80°C"], "range": ["#141414", "#1e22e6", "#e81e1e"]},
   "legend": {"orient": "none", "legendX": 40, "legendY": 28, "padding": 0, "title": "D-ribose Raman aqueous solution", "titleFont": "Liberation Sans", "titleFontSize": 11.5, "titleFontWeight": "bold", "titleColor": "#222", "titlePadding": 23, "titleLimit": 400, "symbolType": "M-1,0H7", "symbolSize": 64, "symbolStrokeWidth": 2.2, "labelFont": "Liberation Sans", "labelFontSize": 12, "labelFontWeight": "bold", "labelColor": "#222", "labelOffset": 28, "rowPadding": 3.5}}
 }},
{"data": {"name": "aCalc"}, "transform": [{"filter": "datum.s === 'exp'"}],
 "mark": {"type": "line", "interpolate": "monotone", "strokeWidth": 2.8, "color": "#141414"},
 "encoding": {
  "x": {"field": "w", "type": "quantitative", "scale": {"domain": [2000, 350], "range": [34.3, 559], "nice": false, "zero": false}, "axis": {"orient": "bottom", "offset": -76, "values": [2000,1800,1600,1400,1200,1000,800,600,400], "format": "d", "labelFontSize": 13.5, "labelColor": "#222", "labelPadding": 6, "labelFlush": false, "labelOverlap": false, "title": "Wavenumbers, cm⁻¹", "titleFontSize": 16, "titleFontWeight": "normal", "titleColor": "#222", "titlePadding": 17, "tickSize": 6, "domainColor": "#3c3c3c", "domainWidth": 1.5, "tickColor": "#3c3c3c", "tickWidth": 1.4}},
  "y": {"field": "i", "type": "quantitative", "scale": {"domain": [-76, 405], "nice": false, "zero": false}, "axis": null},
  "detail": {"field": "s"}
 }},
{"data": {"name": "aCalc"}, "transform": [{"filter": "datum.s !== 'exp'"}],
 "mark": {"type": "line", "interpolate": "monotone", "strokeWidth": 1.6, "color": "#141414"},
 "encoding": {
  "x": {"field": "w", "type": "quantitative", "scale": {"domain": [2000, 350], "range": [34.3, 559], "nice": false, "zero": false}, "axis": {"orient": "bottom", "offset": -76, "values": [1900,1700,1500,1300,1100,900,700,500], "labels": false, "title": null, "domain": false, "tickSize": 3, "tickColor": "#3c3c3c", "tickWidth": 1.4}},
  "y": {"field": "i", "type": "quantitative", "scale": {"domain": [-76, 405], "nice": false, "zero": false}, "axis": null},
  "detail": {"field": "s"}
 }},
{"data": {"name": "aLab"},
 "mark": {"type": "text", "align": "left", "baseline": "top", "fontWeight": "bold", "fontSize": 11.5, "lineBreak": "\n", "lineHeight": 15, "color": "#222", "font": "Liberation Sans"},
 "encoding": {
  "x": {"field": "w", "type": "quantitative", "scale": {"domain": [2000, 350], "range": [34.3, 559], "nice": false, "zero": false}, "axis": {"orient": "bottom", "offset": -285.5, "values": [1900,1700,1500,1300,1100,900,700,500], "labels": false, "title": null, "domain": false, "tickSize": 3, "tickColor": "#3c3c3c", "tickWidth": 1.4}},
  "y": {"field": "i", "type": "quantitative", "scale": {"domain": [-76, 405], "nice": false, "zero": false}, "axis": null},
  "text": {"field": "t"}
 }}
]
},
{
"width": 555, "height": 481,
"view": {"stroke": "#3c3c3c", "strokeWidth": 1.6},
"resolve": {"axis": {"x": "independent"}},
"layer": [
{"data": {"name": "bExp"},
 "mark": {"type": "line", "interpolate": "monotone", "strokeWidth": 2},
 "encoding": {
  "x": {"field": "w", "type": "quantitative", "scale": {"domain": [2000, 350], "range": [38, 552], "nice": false, "zero": false}, "axis": {"orient": "bottom", "offset": -285, "values": [2000,1800,1600,1400,1200,1000,800,600,400], "labels": false, "title": null, "tickSize": 6, "domainColor": "#3c3c3c", "domainWidth": 1.5, "tickColor": "#3c3c3c", "tickWidth": 1.4}},
  "y": {"field": "i", "type": "quantitative", "scale": {"domain": [-76, 405], "nice": false, "zero": false}, "axis": null},
  "color": {"field": "s", "type": "nominal", "scale": {"domain": ["25° C", "50° C", "80° C"], "range": ["#141414", "#1e22e6", "#e81e1e"]},
   "legend": {"orient": "none", "legendX": 46, "legendY": 19, "padding": 0, "title": "2-Deoxy-D-ribose Raman aqueous solution", "titleFont": "Liberation Sans", "titleFontSize": 11.5, "titleFontWeight": "bold", "titleColor": "#222", "titlePadding": 10, "titleLimit": 400, "symbolType": "M-1,0H7", "symbolSize": 64, "symbolStrokeWidth": 2.2, "labelFont": "Liberation Sans", "labelFontSize": 12, "labelFontWeight": "bold", "labelColor": "#222", "labelOffset": 28, "rowPadding": 2.5}}
 }},
{"data": {"name": "bCalc"}, "transform": [{"filter": "datum.s === 'exp'"}],
 "mark": {"type": "line", "interpolate": "monotone", "strokeWidth": 2.8, "color": "#141414"},
 "encoding": {
  "x": {"field": "w", "type": "quantitative", "scale": {"domain": [2000, 350], "range": [38, 552], "nice": false, "zero": false}, "axis": {"orient": "bottom", "offset": -76, "values": [2000,1800,1600,1400,1200,1000,800,600,400], "format": "d", "labelFontSize": 13.5, "labelColor": "#222", "labelPadding": 6, "labelFlush": false, "labelOverlap": false, "title": "Wavenumbers, cm⁻¹", "titleFontSize": 16, "titleFontWeight": "normal", "titleColor": "#222", "titlePadding": 17, "tickSize": 6, "domainColor": "#3c3c3c", "domainWidth": 1.5, "tickColor": "#3c3c3c", "tickWidth": 1.4}},
  "y": {"field": "i", "type": "quantitative", "scale": {"domain": [-76, 405], "nice": false, "zero": false}, "axis": null},
  "detail": {"field": "s"}
 }},
{"data": {"name": "bCalc"}, "transform": [{"filter": "datum.s !== 'exp'"}],
 "mark": {"type": "line", "interpolate": "monotone", "strokeWidth": 1.6, "color": "#141414"},
 "encoding": {
  "x": {"field": "w", "type": "quantitative", "scale": {"domain": [2000, 350], "range": [38, 552], "nice": false, "zero": false}, "axis": {"orient": "bottom", "offset": -76, "values": [1900,1700,1500,1300,1100,900,700,500], "labels": false, "title": null, "domain": false, "tickSize": 3, "tickColor": "#3c3c3c", "tickWidth": 1.4}},
  "y": {"field": "i", "type": "quantitative", "scale": {"domain": [-76, 405], "nice": false, "zero": false}, "axis": null},
  "detail": {"field": "s"}
 }},
{"data": {"name": "bLab"},
 "mark": {"type": "text", "align": "left", "baseline": "top", "fontWeight": "bold", "fontSize": 11.5, "lineBreak": "\n", "lineHeight": 15, "color": "#222", "font": "Liberation Sans"},
 "encoding": {
  "x": {"field": "w", "type": "quantitative", "scale": {"domain": [2000, 350], "range": [38, 552], "nice": false, "zero": false}, "axis": {"orient": "bottom", "offset": -285, "values": [1900,1700,1500,1300,1100,900,700,500], "labels": false, "title": null, "domain": false, "tickSize": 3, "tickColor": "#3c3c3c", "tickWidth": 1.4}},
  "y": {"field": "i", "type": "quantitative", "scale": {"domain": [-76, 405], "nice": false, "zero": false}, "axis": null},
  "text": {"field": "t"}
 }}
]
}
],
"spacing": 0,
"bounds": "flush",
"resolve": {"scale": {"x": "independent", "y": "independent", "color": "independent"}, "legend": {"color": "independent"}}
},
{
"hconcat": [
{"width": 580, "height": 40, "view": {"stroke": "#3c3c3c", "strokeWidth": 1.6},
 "data": {"values": [{"lab": "(a)"}]},
 "mark": {"type": "text", "font": "Liberation Serif", "fontStyle": "italic", "fontSize": 22, "color": "#222", "baseline": "middle"},
 "encoding": {"text": {"field": "lab"}}},
{"width": 555, "height": 40, "view": {"stroke": "#3c3c3c", "strokeWidth": 1.6},
 "data": {"values": [{"lab": "(b)"}]},
 "mark": {"type": "text", "font": "Liberation Serif", "fontStyle": "italic", "fontSize": 22, "color": "#222", "baseline": "middle"},
 "encoding": {"text": {"field": "lab"}}}
],
"spacing": 0,
"bounds": "flush"
}
]
}
